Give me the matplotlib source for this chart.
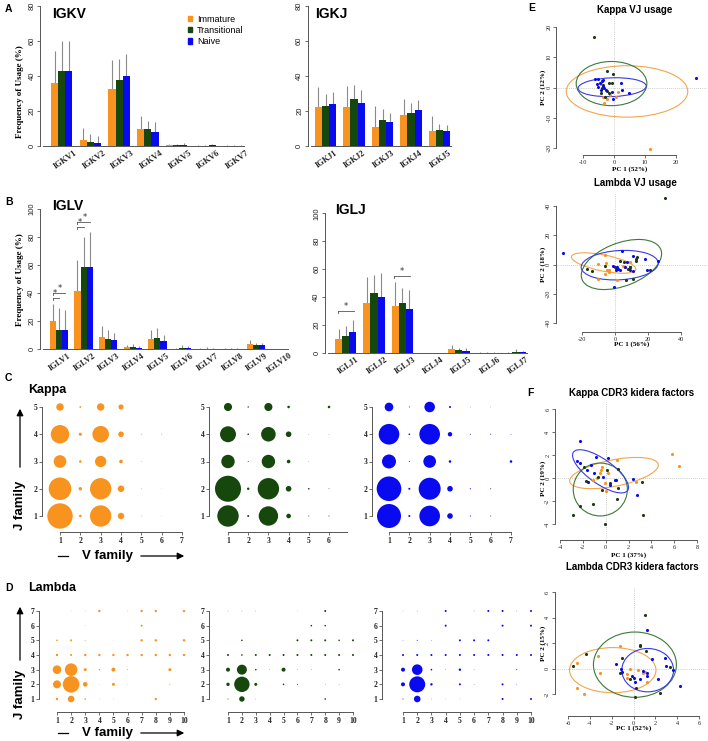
import numpy as np
import matplotlib
matplotlib.use("Agg")
import matplotlib.pyplot as plt
from matplotlib.patches import Ellipse, Patch
import matplotlib.transforms as mtrans

plt.rcParams["axes.unicode_minus"] = False

# ---------------- data ----------------
groups = ["Immature", "Transitional", "Naive"]

igkv_labels = ["IGKV1", "IGKV2", "IGKV3", "IGKV4", "IGKV5", "IGKV6", "IGKV7"]
igkv_imm = [35.8, 3.4, 32.6, 9.7, 0.3, 0.2, 0.1]
igkv_tra = [42.9, 2.5, 37.7, 9.7, 0.3, 0.2, 0.1]
igkv_nai = [43.0, 1.9, 40.0, 7.8, 0.4, 0.3, 0.1]
igkv_imm_sd = [18.5, 7.1, 16.5, 7.4, 0.9, 0.6, 0.3]
igkv_tra_sd = [17.3, 4.4, 11.8, 4.4, 1.0, 0.5, 0.3]
igkv_nai_sd = [17.2, 3.8, 12.6, 5.7, 1.2, 0.6, 0.2]

igkj_labels = ["IGKJ1", "IGKJ2", "IGKJ3", "IGKJ4", "IGKJ5"]
igkj_imm = [22.5, 22.1, 11.0, 17.5, 8.6]
igkj_tra = [22.9, 26.9, 15.0, 18.7, 9.1]
igkj_nai = [24.0, 24.8, 14.0, 20.6, 8.8]
igkj_imm_sd = [11.0, 12.2, 11.9, 9.2, 8.5]
igkj_tra_sd = [6.6, 8.0, 6.0, 6.1, 3.5]
igkj_nai_sd = [7.0, 7.2, 4.7, 5.7, 3.0]

iglv_labels = ["IGLV1", "IGLV2", "IGLV3", "IGLV4", "IGLV5",
               "IGLV6", "IGLV7", "IGLV8", "IGLV9", "IGLV10"]
iglv_imm = [19.9, 41.6, 8.6, 1.4, 7.4, 0.3, 0.2, 0.1, 3.3, 0.1]
iglv_tra = [13.9, 58.4, 6.9, 1.2, 7.9, 1.0, 0.3, 0.1, 2.6, 0.1]
iglv_nai = [13.9, 58.9, 6.2, 0.7, 5.7, 0.4, 0.1, 0.1, 2.6, 0.1]
iglv_imm_sd = [12.1, 22.0, 7.7, 1.2, 6.0, 0.7, 0.6, 0.4, 2.9, 0.2]
iglv_tra_sd = [15.1, 21.5, 6.5, 2.4, 7.4, 2.0, 1.2, 0.4, 1.9, 0.2]
iglv_nai_sd = [13.9, 24.4, 5.5, 1.5, 4.6, 1.6, 0.5, 0.4, 1.7, 0.2]

iglj_labels = ["IGLJ1", "IGLJ2", "IGLJ3", "IGLJ4", "IGLJ5", "IGLJ6", "IGLJ7"]
iglj_imm = [9.8, 35.9, 33.7, 0.0, 2.4, 0.1, 0.1]
iglj_tra = [12.2, 42.6, 35.4, 0.0, 1.9, 0.1, 0.5]
iglj_nai = [15.1, 39.7, 31.1, 0.0, 1.0, 0.1, 0.3]
iglj_imm_sd = [6.9, 18.1, 16.8, 0.0, 2.9, 0.4, 0.3]
iglj_tra_sd = [6.9, 13.1, 11.3, 0.0, 1.7, 0.4, 1.9]
iglj_nai_sd = [8.3, 17.2, 13.9, 0.0, 2.1, 0.4, 0.7]

# VJ pairing frequencies (%), rows = J family 1.., cols = V family 1..
kappa_imm = [[19.7, 0.20, 13.9, 1.25, 0.02, 0.01, 0],
             [15.6, 0.35, 13.9, 1.30, 0.02, 0.01, 0],
             [4.9, 0.20, 3.9, 0.40, 0.02, 0, 0],
             [10.4, 0.30, 8.4, 0.95, 0.03, 0.03, 0],
             [1.7, 0.10, 1.7, 0.80, 0, 0, 0]]
kappa_tra = [[14.0, 0.12, 11.5, 0.65, 0.03, 0.03, 0],
             [20.7, 0.18, 14.0, 0.96, 0.08, 0.02, 0],
             [5.5, 0.03, 5.5, 0.40, 0.01, 0, 0],
             [7.8, 0.08, 6.5, 0.96, 0.01, 0.01, 0],
             [2.0, 0.06, 2.0, 0.20, 0, 0.20, 0]]
kappa_nai = [[17.6, 0.12, 13.0, 0.96, 0.04, 0.03, 0],
             [18.5, 0.12, 14.8, 0.96, 0.04, 0.03, 0],
             [6.0, 0.03, 4.9, 0.20, 0, 0, 0.20],
             [13.0, 0.08, 13.0, 0.60, 0.03, 0.03, 0.02],
             [2.3, 0.03, 3.4, 0.12, 0.01, 0.01, 0]]

lambda_imm = [[0.62, 4.7, 0.28, 0.04, 0.04, 0, 0, 0.62, 0, 0],
              [6.9, 29.8, 2.3, 0.04, 0.97, 0.04, 0, 0, 0.11, 0],
              [8.0, 17.2, 0.97, 0.2, 1.73, 0.11, 0, 0, 0.97, 0],
              [0.62, 0.43, 0.62, 0.62, 0.62, 0.62, 0.62, 0.62, 0.62, 0.62],
              [0.28, 0.43, 0.11, 0, 0.04, 0, 0.62, 0.62, 0, 0.62],
              [0, 0, 0.04, 0, 0, 0, 0.43, 0, 0, 0],
              [0, 0.04, 0.04, 0.62, 0, 0.04, 0.62, 0.62, 0, 0.62]]
lambda_tra = [[0.11, 3.2, 0.04, 0, 0, 0, 0, 0.28, 0, 0],
              [1.25, 25.7, 0.97, 0, 0.28, 0.11, 0, 0.04, 0.04, 0],
              [1.73, 10.8, 0.28, 0.04, 1.73, 0.04, 0.04, 0, 0.28, 0],
              [0.43, 0.28, 0.43, 0.43, 0.43, 0.43, 0.43, 0.43, 0.43, 0.43],
              [0, 0.28, 0, 0, 0, 0.43, 0.43, 0.43, 0.28, 0.43],
              [0, 0, 0, 0, 0, 0, 0.28, 0.28, 0, 0],
              [0.04, 0.04, 0.04, 0, 0, 0.02, 0, 0.43, 0, 0]]
lambda_nai = [[0.11, 4.7, 0.04, 0.02, 0.02, 0, 0, 0.43, 0, 0.43],
              [1.73, 27.7, 0.62, 0, 0.43, 0.04, 0, 0.43, 0.04, 0],
              [1.73, 12.2, 0.28, 0.04, 0.62, 0.04, 0, 0, 0.11, 0],
              [0.43, 0.43, 0.43, 0.43, 0.43, 0.43, 0.43, 0.43, 0.43, 0.43],
              [0.04, 0.11, 0.04, 0, 0.43, 0.43, 0.43, 0, 0, 0],
              [0, 0, 0, 0.43, 0, 0, 0, 0.43, 0, 0.43],
              [0.02, 0.04, 0, 0.43, 0, 0.04, 0.43, 0.43, 0.04, 0.43]]

# PCA scores
kvj_imm_x = [11.7, -4.0, -3.5, -3.7, -3.2, -2.4, 0.7, 1.4, -1.3, -4.3]
kvj_imm_y = [-20.3, 2.1, 0.3, -3.2, -5.2, -3.9, -3.2, -1.5, -2.6, 1.0]
kvj_tra_x = [-6.4, -2.1, -0.4, -1.5, -4.0, -2.4, -4.3, -1.7, -2.9, -0.8, -3.5]
kvj_tra_y = [16.6, 5.3, 4.5, 1.4, -0.1, -1.0, -1.7, -1.9, -3.2, 1.4, 0.9]
kvj_nai_x = [26.5, -6.2, -5.1, -4.6, -4.0, -5.6, -3.7, -3.3, -2.6, 2.2, 2.5, 4.7, -0.2, -3.5, -4.2, -5.1, -0.7]
kvj_nai_y = [3.0, 2.9, 2.8, 1.4, 2.3, 1.2, 0.6, -0.1, -0.8, 1.4, -0.8, -1.8, -3.7, 2.5, -0.8, 0.1, -1.5]

lvj_imm_x = [-10.3, -6.3, -5.7, -4.9, -3.7, -6.3, -10.5, 1.2, -3.7, 5.9, 8.9, 4.9]
lvj_imm_y = [0.5, 6.2, 0.9, -4.1, -3.6, -6.4, -9.8, -10.9, -5.2, -1.4, 1.6, -0.7]
lvj_tra_x = [30.2, -16.8, -13.8, -6.3, -0.2, 1.2, 2.8, 5.3, 7.9, 8.9, 6.9, 11.0, 12.6, 13.4, 13.0, 21.5, 9.3, 0.4]
lvj_tra_y = [45.6, -3.4, -4.6, -0.7, -1.4, -2.5, 2.7, 1.6, -3.0, -1.8, -10.9, -9.8, 2.7, 5.0, 3.9, -3.6, -1.4, -2.7]
lvj_nai_x = [-31.6, 4.5, 11.0, 18.0, 25.8, -0.8, 0.8, 1.8, 3.2, 5.9, 7.3, 8.9, 11.0, 19.5, -1.2, 1.2]
lvj_nai_y = [8.0, 8.9, 5.9, 3.9, 2.5, -15.5, -4.1, -3.0, -4.1, -1.8, 1.6, -4.1, -4.6, -4.1, -0.7, -1.4]

kcd_imm_x = [5.79, 6.46, 1.02, -0.35, -0.5, -0.79, -0.06, 0.03, -1.08, 2.66, -0.44, 0.23]
kcd_imm_y = [2.12, 1.01, 1.54, 0.96, 0.43, 0.0, -0.43, -1.16, -0.14, -0.38, 0.72, 0.43]
kcd_tra_x = [-2.9, -2.25, -1.08, -0.06, 3.25, 1.0, 1.1, 3.16, -1.9, -1.7, -0.64, 0.09, -0.35, 1.1, 0.38]
kcd_tra_y = [-3.2, -2.4, -2.3, -4.0, -3.2, -1.8, -0.87, -0.38, 0.93, -0.3, 0.06, 0.67, -1.0, 0.8, -0.43]
kcd_nai_x = [-2.25, -2.5, -2.25, -0.85, 0.23, -1.3, -1.02, -0.2, 0.82, 0.9, 2.43, 2.72, -1.52, 0.38, -1.67]
kcd_nai_y = [3.19, 1.45, 1.3, 1.83, 1.74, 1.16, 0.43, 0.09, -0.2, -0.14, -0.09, -1.5, -0.38, -0.58, 0.72]

lcd_imm_x = [-5.18, -5.18, -4.57, -3.29, -3.11, -1.22, -0.61, -0.3, 0.37, 0.91, 1.22, -0.61, 1.07]
lcd_imm_y = [0.47, -1.51, -2.0, 0.96, -0.39, 1.74, -0.44, 0.0, -0.08, -0.39, -1.04, -0.78, -0.26]
lcd_tra_x = [-5.55, -4.33, -1.07, 1.07, 0.55, 0.61, 1.13, 0.24, 0.15, 2.44, 3.35, -0.3, -1.22]
lcd_tra_y = [0.23, 1.17, 0.86, 4.19, 1.82, 1.74, 1.38, -1.56, -2.21, -1.95, 0.13, -0.86, -0.39]
lcd_nai_x = [1.22, 1.68, 2.9, 2.99, 3.6, 4.27, 2.29, -1.59, -1.16, -1.07, 0.0, 0.15, 0.55, 0.91, 1.22, 1.28, -0.15]
lcd_nai_y = [3.05, 0.78, 0.86, 0.18, -0.08, -1.38, -0.86, 0.34, 0.0, -0.26, -0.78, -1.04, -0.86, -0.18, -0.39, -0.6, -0.6]

# 95% ellipses: centre x, centre y, semi-axis a, semi-axis b, angle (deg)
kvj_ell = [[4.2, -1.3, 19.6, 8.5, 0], [-0.8, 1.3, 11.4, 7.3, 0], [-0.6, 0.1, 11.0, 3.1, 2]]
lvj_ell = [[-6.9, 1.0, 20.0, 5.5, -13], [3.9, 0.0, 26.0, 14.5, 25], [2.85, -0.45, 23.4, 10.0, 4]]
kcd_ell = [[0.73, 0.43, 3.95, 1.15, 11], [-0.47, -1.0, 2.37, 2.3, 0], [-0.45, 0.58, 2.9, 1.07, -35]]
lcd_ell = [[-1.9, -0.13, 3.96, 1.77, 0], [0.13, 0.3, 3.8, 2.56, 0], [1.3, -0.13, 2.37, 1.7, 0]]

# ---------------- styling ----------------
W, H = 708, 741
fig = plt.figure(figsize=(W / 100, H / 100), dpi=100)
ORANGE = "#F7931E"
GREEN = "#16480E"
BLUE = "#0A0AF0"
COLORS = [ORANGE, GREEN, BLUE]
PT_COLORS = [ORANGE, "#1B3A12", "#0A0AF0"]
ELL_COLORS = ["#F2A64A", "#3A7A3A", "#3A3AE6"]
ERRC = "#8A8A8A"
AXC = "#555555"
SANS = "Liberation Sans"
SERIF = "Liberation Serif"


def axes_px(xref, yref, xlim, ylim):
    (xv1, xp1), (xv2, xp2) = xref
    sx = (xp2 - xp1) / (xv2 - xv1)
    left = xp1 + (xlim[0] - xv1) * sx
    right = xp1 + (xlim[1] - xv1) * sx
    (yv1, yp1), (yv2, yp2) = yref
    sy = (yp2 - yp1) / (yv2 - yv1)
    bottom = yp1 + (ylim[0] - yv1) * sy
    top = yp1 + (ylim[1] - yv1) * sy
    ax = fig.add_axes([left / W, 1 - bottom / H, (right - left) / W, (bottom - top) / H])
    ax.set_xlim(*xlim)
    ax.set_ylim(*ylim)
    ax.patch.set_alpha(0)
    return ax


def ftext(x, y, s, **kw):
    fig.text(x / W, 1 - y / H, s, **kw)


def r_axes(ax, xb, yb, xt, yt, fs=5, family=SERIF, weight="bold", roty=90,
           xtl=None, ytl=None):
    for sp in ["top", "right"]:
        ax.spines[sp].set_visible(False)
    for sp in ["left", "bottom"]:
        ax.spines[sp].set_color(AXC)
        ax.spines[sp].set_linewidth(0.7)
    ax.spines["left"].set_bounds(*yb)
    ax.spines["bottom"].set_bounds(*xb)
    ax.set_xticks(xt)
    ax.set_yticks(yt)
    if xtl is not None:
        ax.set_xticklabels(xtl)
    if ytl is not None:
        ax.set_yticklabels(ytl)
    ax.tick_params(length=2.2, width=0.6, pad=1.2, labelsize=fs, color=AXC,
                   labelcolor="#222222")
    for lab in ax.get_xticklabels() + ax.get_yticklabels():
        lab.set_family(family)
        lab.set_weight(weight)
    if roty:
        for lab in ax.get_yticklabels():
            lab.set_rotation(roty)
            lab.set_va("center")


def bar_panel(xref, yref, xlim, ymax, labels, means, sds, yticks, lab_off):
    ax = axes_px(xref, yref, xlim, (0, ymax))
    x = np.arange(len(labels))
    for i, (m, s, c) in enumerate(zip(means, sds, COLORS)):
        xs = x + (i - 1) * 0.25
        m = np.asarray(m)
        s = np.asarray(s)
        ax.bar(xs, m, width=0.25, color=c, edgecolor="none", zorder=2)
        sel = s > 0
        ax.vlines(xs[sel], m[sel], (m + s)[sel], color=ERRC, lw=0.8, zorder=1)
    r_axes(ax, xlim, (0, yticks[-1]), [], yticks, fs=5.5, family=SANS,
           weight="normal")
    ax.spines["bottom"].set_bounds(xlim[0] + 0.1, xlim[1])
    tr = mtrans.blended_transform_factory(ax.transData, ax.transAxes)
    for xi, lab in zip(x, labels):
        ax.text(xi + lab_off, -0.02, lab, transform=tr, rotation=35,
                ha="right", va="top", rotation_mode="anchor", fontsize=6,
                family=SERIF, weight="bold", color="#222222")
    return ax


def sig(ax, x0, x1, y, txt_dx=0.0):
    ax.plot([x0, x1], [y, y], color="#555555", lw=0.6)
    ax.plot([x0, x0], [y, y - 1.2], color="#555555", lw=0.6)
    ax.text((x0 + x1) / 2 + txt_dx, y, "*", ha="center", va="bottom",
            fontsize=6, color="#333333")


# ---------------- Panel A ----------------
ftext(5, 9, "A", fontsize=7.5, weight="bold", family=SANS, va="center")
axA1 = bar_panel(((0, 61.7), (1, 90.4)), ((0, 146), (80, 6)), (-0.75, 6.35), 82,
                 igkv_labels, [igkv_imm, igkv_tra, igkv_nai],
                 [igkv_imm_sd, igkv_tra_sd, igkv_nai_sd], [0, 20, 40, 60, 80], 0.42)
ftext(52, 14, "IGKV", fontsize=10, weight="bold", family=SANS, va="center")
ftext(20, 92, "Frequency of Usage (%)", fontsize=6.5, weight="bold", family=SERIF,
      rotation=90, ha="center", va="center")
handles = [Patch(color=c) for c in COLORS]
fig.legend(handles, groups, loc="upper left", bbox_to_anchor=(183 / W, 1 - 10 / H),
           frameon=False, fontsize=6.5, handlelength=0.55, handleheight=0.55,
           handletextpad=0.5, labelspacing=0.25, borderpad=0,
           prop={"family": SANS, "size": 6.5})

axA2 = bar_panel(((0, 325.5), (1, 354)), ((0, 146), (80, 6)), (-0.62, 4.4), 82,
                 igkj_labels, [igkj_imm, igkj_tra, igkj_nai],
                 [igkj_imm_sd, igkj_tra_sd, igkj_nai_sd], [0, 20, 40, 60, 80], 0.3)
ftext(315, 14, "IGKJ", fontsize=10, weight="bold", family=SANS, va="center")

# ---------------- Panel B ----------------
ftext(5, 202, "B", fontsize=7.5, weight="bold", family=SANS, va="center")
axB1 = bar_panel(((0, 59), (1, 83.6)), ((0, 349), (100, 209)), (-0.77, 9.3), 102,
                 iglv_labels, [iglv_imm, iglv_tra, iglv_nai],
                 [iglv_imm_sd, iglv_tra_sd, iglv_nai_sd], [0, 20, 40, 60, 80, 100], 0.36)
ftext(52, 206, "IGLV", fontsize=10, weight="bold", family=SANS, va="center")
ftext(20, 280, "Frequency of Usage (%)", fontsize=6.5, weight="bold", family=SERIF,
      rotation=90, ha="center", va="center")
sig(axB1, -0.25, 0.25, 40.0, 0.05)
sig(axB1, -0.25, 0.0, 36.5, -0.03)
sig(axB1, 0.75, 1.25, 90.5, 0.05)
sig(axB1, 0.75, 1.0, 87.0, -0.03)

axB2 = bar_panel(((0, 345.7), (1, 374)), ((0, 352.7), (100, 213.3)), (-0.73, 6.4), 102,
                 iglj_labels, [iglj_imm, iglj_tra, iglj_nai],
                 [iglj_imm_sd, iglj_tra_sd, iglj_nai_sd], [0, 20, 40, 60, 80, 100], 0.36)
ftext(335, 210, "IGLJ", fontsize=10, weight="bold", family=SANS, va="center")
sig(axB2, -0.28, 0.28, 30.0)
sig(axB2, 1.72, 2.28, 55.0)


# ---------------- Panels C / D ----------------
def bubble_panel(xref, yref, xlim, ylim, mat, color, k, xt, yt, xb, yb):
    ax = axes_px(xref, yref, xlim, ylim)
    mat = np.asarray(mat, dtype=float)
    J, V = np.nonzero(mat > 0)
    r = k * np.sqrt(mat[J, V])
    s = (2 * r * 72 / 100) ** 2
    ax.scatter(V + 1, J + 1, s=s, c=color, linewidths=0, clip_on=False)
    r_axes(ax, xb, yb, xt, yt, fs=5.5, family=SERIF, weight="bold", roty=0)
    return ax


K_KAPPA = 2.86
K_LAMBDA = 1.52
ftext(5, 378, "C", fontsize=7.5, weight="bold", family=SANS, va="center")
ftext(28, 390, "Kappa", fontsize=9, weight="bold", family=SANS, va="center")
kyref = ((1, 516), (5, 407))
bubble_panel(((1, 60), (7, 182)), kyref, (0.115, 7.5), (0.41, 5.5), kappa_imm, ORANGE,
             K_KAPPA, range(1, 8), range(1, 6), (1, 7), (1, 5))
bubble_panel(((1, 228), (6, 329)), kyref, (0.06, 7.5), (0.41, 5.5), kappa_tra, GREEN,
             K_KAPPA, range(1, 7), range(1, 6), (1, 6.9), (1, 5))
bubble_panel(((1, 389), (7, 511)), kyref, (0.164, 7.5), (0.41, 5.5), kappa_nai, BLUE,
             K_KAPPA, range(1, 8), range(1, 6), (1, 7), (1, 5))

ftext(5, 588, "D", fontsize=7.5, weight="bold", family=SANS, va="center")
ftext(28, 588, "Lambda", fontsize=9, weight="bold", family=SANS, va="center")
lyref = ((1, 699), (7, 611))
bubble_panel(((1, 57), (10, 184)), lyref, (-0.276, 10.5), (0.114, 7.4), lambda_imm, ORANGE,
             K_LAMBDA, range(1, 11), range(1, 8), (1, 10), (1, 7))
bubble_panel(((1, 228), (10, 353)), lyref, (-0.368, 10.5), (0.114, 7.4), lambda_tra, GREEN,
             K_LAMBDA, range(1, 11), range(1, 8), (1, 10), (1, 7))
bubble_panel(((1, 403), (10, 531)), lyref, (-0.477, 10.5), (0.114, 7.4), lambda_nai, BLUE,
             K_LAMBDA, range(1, 11), range(1, 8), (1, 10), (1, 7))


def fig_arrow(x0, y0, x1, y1):
    fig.add_artist(matplotlib.patches.FancyArrowPatch(
        (x0 / W, 1 - y0 / H), (x1 / W, 1 - y1 / H), transform=fig.transFigure,
        arrowstyle="-|>,head_length=4,head_width=2", lw=0.9, color="black",
        mutation_scale=1))


def fig_line(x0, y0, x1, y1):
    fig.add_artist(matplotlib.lines.Line2D([x0 / W, x1 / W], [1 - y0 / H, 1 - y1 / H],
                                           transform=fig.transFigure, lw=0.9, color="black"))


for jy_text, jy0, jy1, vy in [(505, 470, 406, 556), (694, 663, 604, 733)]:
    ftext(20, jy_text, "J family", fontsize=9.5, weight="bold", family=SANS,
          rotation=90, ha="center", va="center")
    fig_arrow(20, jy0, 20, jy1)
    fig_line(58, vy, 68, vy)
    ftext(107, vy, "V family", fontsize=9.5, weight="bold", family=SANS,
          ha="center", va="center")
    fig_arrow(138, vy, 187, vy)


# ---------------- Panels E / F ----------------
def pca_panel(xref, yref, xlim, ylim, xt, yt, xs, ys, ells, title, tx, ty, xlabel, xly,
              ylabel, yly):
    ax = axes_px(xref, yref, xlim, ylim)
    ax.axhline(0, color="#BDBDBD", ls=(0, (1, 1.5)), lw=0.6, zorder=0)
    ax.axvline(0, color="#BDBDBD", ls=(0, (1, 1.5)), lw=0.6, zorder=0)
    for (ex, ey, ea, eb, ang), c in zip(ells, ELL_COLORS):
        ax.add_patch(Ellipse((ex, ey), 2 * ea, 2 * eb, angle=ang, fill=False,
                             ec=c, lw=0.8, zorder=2))
    for px, py, c in zip(xs, ys, PT_COLORS):
        ax.scatter(px, py, s=5, c=c, linewidths=0, zorder=3, clip_on=False)
    r_axes(ax, (xt[0], xt[-1]), (yt[0], yt[-1]), xt, yt, fs=4.5, family=SERIF,
           weight="normal")
    cx = (xref[0][1] + xref[1][1]) / 2
    ftext(tx, ty, title, fontsize=7, weight="bold", family=SANS, ha="center",
          va="center")
    ftext(cx, xly, xlabel, fontsize=5, weight="bold", family=SERIF, ha="center",
          va="center")
    ftext(543, yly, ylabel, fontsize=5, weight="bold", family=SERIF, ha="center",
          va="center", rotation=90)
    return ax


ftext(528, 8, "E", fontsize=7.5, weight="bold", family=SANS, va="center")
pca_panel(((-10, 583), (20, 676)), ((20, 27), (-20, 148)), (-18.7, 30), (-22.3, 23.5),
          [-10, 0, 10, 20], [-20, -10, 0, 10, 20],
          [kvj_imm_x, kvj_tra_x, kvj_nai_x], [kvj_imm_y, kvj_tra_y, kvj_nai_y], kvj_ell,
          "Kappa VJ usage", 635, 10, "PC 1 (52%)", 169, "PC 2 (12%)", 87)
pca_panel(((-20, 582), (40, 681)), ((40, 206), (-40, 323)), (-35.8, 56), (-46.2, 48),
          [-20, 0, 20, 40], [-40, -20, 0, 20, 40],
          [lvj_imm_x, lvj_tra_x, lvj_nai_x], [lvj_imm_y, lvj_tra_y, lvj_nai_y], lvj_ell,
          "Lambda VJ usage", 635, 183, "PC 1 (56%)", 344, "PC 2 (18%)", 264)
ftext(527, 393, "F", fontsize=7.5, weight="bold", family=SANS, va="center")
pca_panel(((-4, 560), (8, 697)), ((6, 409), (-4, 524)), (-4.44, 8.9), (-5.4, 6.6),
          [-4, -2, 0, 2, 4, 6, 8], [-4, -2, 0, 2, 4, 6],
          [kcd_imm_x, kcd_tra_x, kcd_nai_x], [kcd_imm_y, kcd_tra_y, kcd_nai_y], kcd_ell,
          "Kappa CDR3 kidera factors", 632, 393, "PC 1 (37%)", 555, "PC 2 (19%)", 478)
pca_panel(((-6, 568), (6, 699)), ((6, 592), (-2, 694)), (-7.2, 6.8), (-3.73, 6.4),
          [-6, -4, -2, 0, 2, 4, 6], [-2, 0, 2, 4, 6],
          [lcd_imm_x, lcd_tra_x, lcd_nai_x], [lcd_imm_y, lcd_tra_y, lcd_nai_y], lcd_ell,
          "Lambda CDR3 kidera factors", 632, 567, "PC 1 (52%)", 728, "PC 2 (15%)", 643)

fig.savefig("out.png", dpi=100)
